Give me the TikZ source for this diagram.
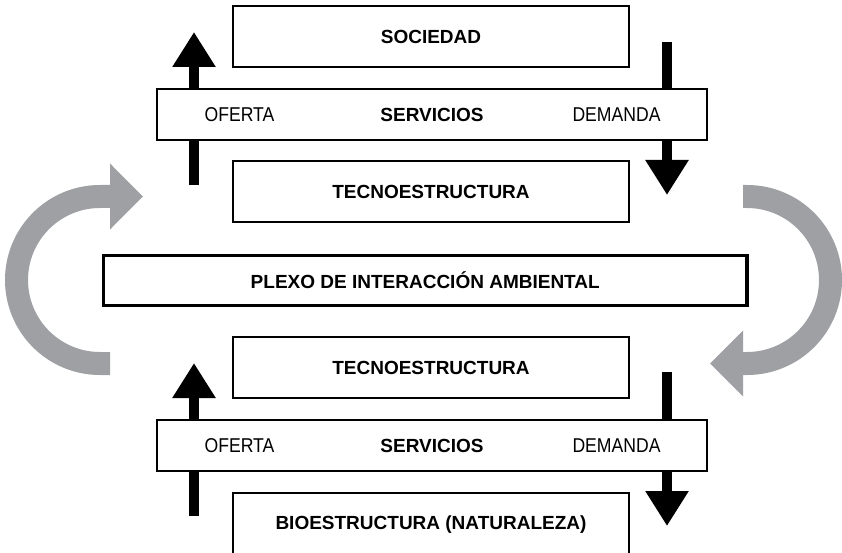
\documentclass[tikz,border=0pt]{standalone}
\usepackage{fontspec}
\setmainfont{Liberation Sans}
\newfontfamily\flowfont{Liberation Sans}[FakeStretch=0.88]
\usetikzlibrary{arrows.meta}
\definecolor{flowgray}{RGB}{158,160,163}

\begin{document}
\begin{tikzpicture}[x=1pt, y=-1pt, align=center,
    box/.style={draw=black, line width=1.3pt, fill=white, rectangle, inner sep=0pt, outer sep=0pt,
      minimum width=396pt, minimum height=61pt, font=\fontsize{19}{22}\selectfont\bfseries},
    servbox/.style={box, line width=2pt, minimum width=550pt, minimum height=51pt},
    plexbox/.style={box, line width=3.5pt, minimum width=643.5pt, minimum height=50pt},
    flowlabel/.style={inner sep=0pt, font=\flowfont\fontsize{20}{23}\selectfont},
    bigarrow/.style={line width=10pt, -{Triangle[length=35pt, width=41pt]}},
    cyclearrow/.style={draw=flowgray, line width=23pt, -{Triangle[length=33pt, width=64pt]}}]
      \useasboundingbox (0,0) rectangle (842,553);
      \clip (0,0) rectangle (842,553);
      %
      \coordinate (U1) at (194,185);
      \coordinate (U2) at (194,32);
      \coordinate (W1) at (667,42);
      \coordinate (W2) at (667,195);
      \coordinate (U3) at (194,516);
      \coordinate (U4) at (194,363);
      \coordinate (W3) at (667,372);
      \coordinate (W4) at (667,526);
      \draw[bigarrow] (U1) -- (U2);
      \draw[bigarrow] (W1) -- (W2);
      \draw[bigarrow] (U3) -- (U4);
      \draw[bigarrow] (W3) -- (W4);
      %
      \node[box] (S1) at (431,36.5) {SOCIEDAD};
      \node[servbox] (V1) at (432,114.5) {SERVICIOS};
      \node[flowlabel] (O1) at (239.5,115) {OFERTA};
      \node[flowlabel] (D1) at (616.5,115) {DEMANDA};
      \node[box] (T1) at (431,191.5) {TECNOESTRUCTURA};
      %
      \node[plexbox] (P1) at (425.25,280.5) {PLEXO DE INTERACCIÓN AMBIENTAL};
      %
      \node[box] (T2) at (431,367.5) {TECNOESTRUCTURA};
      \node[servbox] (V2) at (432,445.5) {SERVICIOS};
      \node[flowlabel] (O2) at (239.5,446) {OFERTA};
      \node[flowlabel] (D2) at (616.5,446) {DEMANDA};
      \node[box, minimum height=64pt] (B1) at (431,525) {BIOESTRUCTURA (NATURALEZA)};
      %
      \coordinate (G1) at (110,363.5);
      \coordinate (G2) at (143,196.5);
      \coordinate (G3) at (743,196.5);
      \coordinate (G4) at (710,363.5);
      \draw[cyclearrow] (G1) -- ++(-10,0) arc[start angle=90, end angle=270, radius=83.5] -- (G2);
      \draw[cyclearrow] (G3) -- ++(4,0) arc[start angle=270, end angle=450, radius=83.5] -- (G4);
    \end{tikzpicture}
\end{document}
